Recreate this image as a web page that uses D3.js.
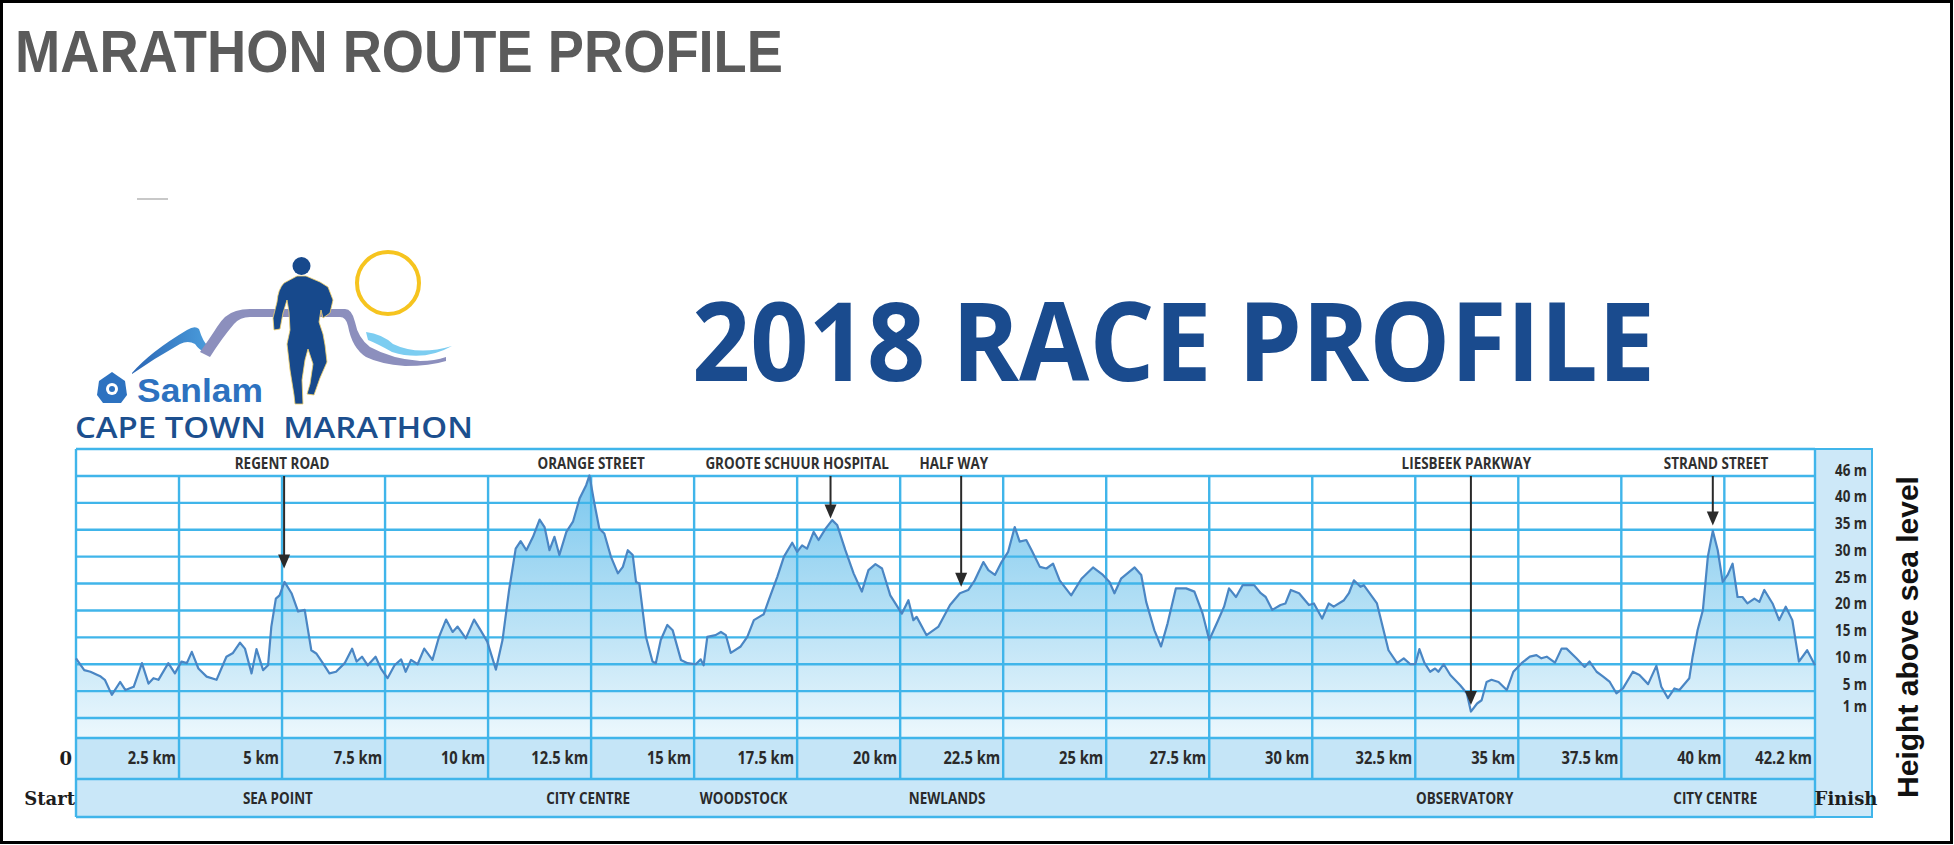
<!DOCTYPE html>
<html>
<head>
<meta charset="utf-8">
<script src="https://cdn.jsdelivr.net/npm/d3@7"></script>
<style>
  html, body { margin: 0; padding: 0; background: #fff; }
  svg { display: block; }
</style>
</head>
<body>
<svg id="chart" width="1954" height="845"></svg>
<script>
// elevation profile (km along route, metres above sea level)
const distanceKm = [0, 0.2, 0.35, 0.6, 0.7, 0.87, 1.07, 1.2, 1.4, 1.6, 1.76, 1.88, 2.0, 2.24, 2.4, 2.56, 2.69, 2.81, 2.97, 3.17,
  3.41, 3.65, 3.81, 3.98, 4.1, 4.26, 4.38, 4.54, 4.66, 4.74, 4.85, 4.94, 5.06, 5.23, 5.39, 5.55, 5.71, 5.83, 5.99, 6.15,
  6.31, 6.52, 6.7, 6.81, 6.94, 7.08, 7.27, 7.4, 7.56, 7.73, 7.89, 8.0, 8.13, 8.29, 8.45, 8.65, 8.81, 8.98, 9.14, 9.26,
  9.46, 9.66, 9.82, 9.98, 10.19, 10.35, 10.51, 10.67, 10.79, 10.93, 11.09, 11.25, 11.37, 11.49, 11.61, 11.73, 11.9, 12.06, 12.22, 12.38,
  12.46, 12.58, 12.7, 12.82, 12.98, 13.15, 13.27, 13.39, 13.51, 13.59, 13.67, 13.83, 13.99, 14.07, 14.19, 14.35, 14.48, 14.68, 14.84, 15.04,
  15.16, 15.23, 15.32, 15.52, 15.65, 15.77, 15.89, 16.13, 16.29, 16.45, 16.69, 16.81, 17.02, 17.18, 17.38, 17.5, 17.62, 17.74, 17.9, 18.02,
  18.19, 18.35, 18.47, 18.67, 18.87, 19.07, 19.23, 19.4, 19.56, 19.76, 20.04, 20.2, 20.32, 20.4, 20.64, 20.93, 21.21, 21.45, 21.65, 21.81,
  22.02, 22.14, 22.3, 22.46, 22.62, 22.78, 22.9, 23.06, 23.19, 23.39, 23.55, 23.71, 23.87, 24.15, 24.4, 24.68, 24.92, 25.08, 25.2, 25.36,
  25.69, 25.85, 25.97, 26.17, 26.33, 26.49, 26.69, 26.94, 27.14, 27.34, 27.5, 27.7, 27.86, 27.98, 28.15, 28.31, 28.59, 28.75, 28.87, 29.03,
  29.23, 29.35, 29.48, 29.68, 29.92, 30.04, 30.24, 30.4, 30.52, 30.77, 30.89, 31.01, 31.17, 31.25, 31.57, 31.73, 31.85, 32.06, 32.22, 32.38,
  32.5, 32.6, 32.72, 32.86, 32.98, 33.06, 33.19, 33.35, 33.59, 33.75, 33.85, 34.0, 34.11, 34.23, 34.35, 34.52, 34.72, 34.88, 35.08, 35.28,
  35.44, 35.56, 35.69, 35.89, 36.05, 36.17, 36.41, 36.61, 36.73, 36.9, 37.06, 37.22, 37.38, 37.54, 37.78, 37.94, 38.15, 38.35, 38.47, 38.63,
  38.79, 38.91, 39.15, 39.23, 39.35, 39.48, 39.6, 39.72, 39.84, 39.96, 40.08, 40.2, 40.32, 40.44, 40.56, 40.73, 40.85, 40.97, 41.17, 41.33,
  41.49, 41.65, 41.81, 42.01, 42.2];
const elevationM = [11.1, 8.9, 8.6, 7.7, 7.1, 4.3, 6.7, 5.2, 5.8, 10.2, 6.4, 7.4, 7.1, 10.2, 8.3, 10.5, 10.2, 12.3, 9.2, 7.7,
  7.1, 11.4, 12.1, 14.0, 12.9, 8.3, 12.8, 8.9, 9.8, 17.0, 22.2, 22.8, 25.3, 23.2, 19.8, 20.1, 12.6, 12.0, 10.2, 8.3,
  8.6, 10.2, 12.9, 10.5, 11.4, 9.8, 11.4, 9.2, 7.4, 9.8, 10.9, 8.6, 10.8, 10.0, 12.9, 10.8, 15.1, 18.3, 16.0, 17.0,
  14.8, 18.3, 16.3, 14.2, 9.0, 14.5, 23.8, 31.5, 32.9, 31.2, 33.7, 36.9, 35.5, 31.2, 33.7, 30.3, 34.6, 36.5, 40.8, 43.3,
  45.1, 39.9, 35.2, 34.3, 30.0, 26.9, 28.1, 31.2, 30.3, 25.3, 25.0, 15.1, 10.5, 10.2, 14.5, 17.3, 16.3, 10.8, 10.2, 10.0,
  10.9, 9.8, 15.1, 15.4, 16.0, 15.4, 12.1, 13.3, 15.1, 18.2, 19.3, 21.9, 26.3, 30.0, 32.6, 30.9, 32.1, 31.5, 34.6, 33.1,
  35.2, 36.8, 35.9, 31.2, 26.9, 23.5, 27.5, 28.6, 27.8, 22.8, 19.4, 21.9, 18.2, 18.8, 15.4, 17.0, 21.0, 23.2, 23.8, 25.6,
  29.0, 27.5, 26.6, 29.0, 30.9, 35.5, 32.8, 33.1, 31.2, 28.1, 27.8, 28.7, 25.6, 22.8, 25.9, 28.0, 26.6, 25.3, 23.2, 25.9,
  28.0, 26.6, 21.6, 16.3, 13.3, 17.6, 24.1, 24.1, 23.5, 19.4, 14.5, 17.9, 20.7, 24.1, 22.5, 24.7, 24.7, 23.2, 22.5, 20.1,
  21.0, 21.3, 23.8, 23.2, 21.0, 21.3, 18.5, 21.3, 20.7, 21.9, 23.2, 25.6, 24.4, 24.7, 21.3, 16.3, 12.6, 10.2, 11.1, 10.0,
  10.0, 12.8, 10.3, 8.6, 9.2, 8.6, 10.0, 8.0, 6.1, 4.6, 1.2, 2.7, 3.3, 6.7, 7.1, 6.7, 5.2, 8.6, 10.2, 11.4,
  11.7, 11.1, 11.4, 10.3, 12.9, 12.9, 11.1, 9.5, 10.5, 8.6, 7.7, 6.7, 4.6, 5.5, 8.6, 8.0, 6.3, 9.7, 5.8, 3.7,
  5.5, 5.2, 7.4, 11.4, 16.3, 20.1, 30.0, 34.8, 31.2, 25.3, 26.6, 28.7, 22.5, 22.5, 21.3, 22.2, 21.6, 23.8, 21.3, 18.2,
  20.7, 18.2, 10.5, 12.6, 9.8];

const kmTicks = [2.5, 5, 7.5, 10, 12.5, 15, 17.5, 20, 22.5, 25, 27.5, 30, 32.5, 35, 37.5, 40, 42.2];
const kmTickLabels = ["2.5 km", "5 km", "7.5 km", "10 km", "12.5 km", "15 km", "17.5 km", "20 km", "22.5 km",
  "25 km", "27.5 km", "30 km", "32.5 km", "35 km", "37.5 km", "40 km", "42.2 km"];
const heightTicks = [46, 40, 35, 30, 25, 20, 15, 10, 5, 1];
const heightTickLabels = ["46 m", "40 m", "35 m", "30 m", "25 m", "20 m", "15 m", "10 m", "5 m", "1 m"];

const landmarkNames = ["REGENT ROAD", "ORANGE STREET", "GROOTE SCHUUR HOSPITAL", "HALF WAY", "LIESBEEK PARKWAY", "STRAND STREET"];
const landmarkLabelKm = [5.0, 12.5, 17.5, 21.3, 33.74, 39.8];
const landmarkArrowKm = [5.05, null, 18.31, 21.48, 33.85, 39.72];
const landmarkArrowM = [27.8, null, 37.1, 24.4, 2.4, 35.8];

const suburbNames = ["SEA POINT", "CITY CENTRE", "WOODSTOCK", "NEWLANDS", "OBSERVATORY", "CITY CENTRE"];
const suburbKm = [4.9, 12.43, 16.2, 21.14, 33.7, 39.78];

const svg = d3.select("#chart");
const gridBlue = "#40b5ea";
const condensedFont = "'Open Sans', sans-serif";

// layout
const left = 76, right = 1815;
const frameTop = 449, bandTop = 738, bandMid = 779, bandBottom = 817;
const colRight = 1872;

const x = d3.scaleLinear().domain([0, 42.2]).range([left, right]);
const y = d3.scaleLinear().domain([0, 45]).range([718, 476]);

const profile = distanceKm.map(function (d, i) {
    return { km: d, m: elevationM[i] };
});

// outer black frame
svg.append("rect")
    .attr("x", 1.5).attr("y", 1.5)
    .attr("width", 1950).attr("height", 841)
    .attr("fill", "#fff")
    .attr("stroke", "#000")
    .attr("stroke-width", 3);

// page title
svg.append("text")
    .attr("x", 15).attr("y", 72)
    .attr("textLength", 768)
    .attr("lengthAdjust", "spacingAndGlyphs")
    .style("font-family", "'Liberation Sans', Arial, sans-serif")
    .style("font-weight", "bold")
    .style("font-size", "60px")
    .attr("fill", "#5b5b5b")
    .text("MARATHON ROUTE PROFILE");

svg.append("line")
    .attr("x1", 137).attr("x2", 168).attr("y1", 199).attr("y2", 199)
    .attr("stroke", "#c8c8c8").attr("stroke-width", 2);

svg.append("text")
    .attr("x", 692).attr("y", 381)
    .attr("textLength", 963)
    .attr("lengthAdjust", "spacingAndGlyphs")
    .style("font-family", condensedFont)
    .style("font-weight", "bold")
    .style("font-size", "109px")
    .attr("fill", "#1a4b8e")
    .text("2018 RACE PROFILE");

// logo
let logo = svg.append("g").attr("id", "logo");
let defs = svg.append("defs");

let swoosh = defs.append("linearGradient").attr("id", "swoosh")
    .attr("x1", "0").attr("x2", "1").attr("y1", "0").attr("y2", "0");
swoosh.append("stop").attr("offset", "0").attr("stop-color", "#2a66b5");
swoosh.append("stop").attr("offset", "1").attr("stop-color", "#4fa3e0");

logo.append("path")
    .attr("d", "M132,373 Q150,352 187,330 Q195,325 199,329 Q203,342 208,346 Q212,338 218,336 L218,342 Q210,352 206,353 Q199,350 195,344 Q188,340 180,344 Q155,358 132,374 Z")
    .attr("fill", "url(#swoosh)");

logo.append("path")
    .attr("d", "M200,352 Q210,338 217,327 Q225,314 236,311 Q242,309 250,309 L345,309 Q352,309 355,322 Q358,338 370,347 Q392,359 420,361 Q435,361 446,357 L446,361 Q430,366 405,366 Q380,364 366,357 Q352,348 348,326 Q346,317 340,317 L250,317 Q240,317 234,324 Q222,338 210,357 Z")
    .attr("fill", "#8c8fbd");

logo.append("path")
    .attr("d", "M366,332 Q382,334 393,344 Q418,356 452,346 Q424,362 392,352 Q378,344 368,340 Z")
    .attr("fill", "#7ccdf1");

logo.append("circle")
    .attr("cx", 388).attr("cy", 283).attr("r", 31)
    .attr("fill", "none")
    .attr("stroke", "#f6c41f")
    .attr("stroke-width", 4);

logo.append("path")
    .attr("d", "M297,276 L284,283 Q278,289 277,302 L273,318 L274,330 L280,329 L283,313 L287,300 L289,312 L290,330 L287,344 L290,370 L294,395 L295,404 L303,404 L302,380 L305,360 L308,349 L313,364 L310,384 L307,394 L314,395 L320,378 L327,362 L325,345 L323,334 L319,322 L321,310 L323,318 L330,313 L333,300 L328,287 L320,282 L306,276 Z")
    .attr("fill", "#17498c")
    .attr("stroke", "#f4d26a")
    .attr("stroke-width", 0.8);
logo.append("circle")
    .attr("cx", 301.5).attr("cy", 266).attr("r", 9)
    .attr("fill", "#17498c");

logo.append("path")
    .attr("d", "M112,372 L125,381 L127,395 L121,403 L103,403 L97,395 L99,381 Z")
    .attr("fill", "#2d72c0");
logo.append("circle").attr("cx", 112).attr("cy", 389).attr("r", 6).attr("fill", "#fff");
logo.append("circle").attr("cx", 112).attr("cy", 389).attr("r", 3).attr("fill", "#2d72c0");

logo.append("text")
    .attr("x", 137).attr("y", 402)
    .attr("textLength", 126)
    .attr("lengthAdjust", "spacingAndGlyphs")
    .style("font-family", "'Liberation Sans', Arial, sans-serif")
    .style("font-weight", "bold")
    .style("font-size", "33px")
    .attr("fill", "#2d72c0")
    .text("Sanlam");

logo.append("text")
    .attr("x", 75).attr("y", 438)
    .attr("textLength", 398)
    .attr("lengthAdjust", "spacingAndGlyphs")
    .style("font-family", condensedFont)
    .style("font-weight", "600")
    .style("font-size", "29px")
    .attr("fill", "#1c4f8e")
    .text("CAPE TOWN\u00a0 MARATHON");

// area gradient, darker towards the top
let fillGrad = defs.append("linearGradient").attr("id", "profileFill")
    .attr("gradientUnits", "userSpaceOnUse")
    .attr("x1", 0).attr("x2", 0)
    .attr("y1", y(46)).attr("y2", bandTop);
fillGrad.append("stop").attr("offset", "0").attr("stop-color", "#78c6ee");
fillGrad.append("stop").attr("offset", "0.4").attr("stop-color", "#a7daf3");
fillGrad.append("stop").attr("offset", "0.72").attr("stop-color", "#cbe9f8");
fillGrad.append("stop").attr("offset", "1").attr("stop-color", "#edf8fd");

// bands and side column
svg.append("rect")
    .attr("x", left).attr("y", bandTop)
    .attr("width", right - left).attr("height", bandMid - bandTop)
    .attr("fill", "#c5e5f7");
svg.append("rect")
    .attr("x", left).attr("y", bandMid)
    .attr("width", right - left).attr("height", bandBottom - bandMid)
    .attr("fill", "#c9e7f8");
svg.append("rect")
    .attr("x", right).attr("y", frameTop)
    .attr("width", colRight - right).attr("height", bandBottom - frameTop)
    .attr("fill", "#cde8f8")
    .attr("stroke", gridBlue)
    .attr("stroke-width", 2);

let area = d3.area()
    .x(function (d) { return x(d.km); })
    .y0(bandTop)
    .y1(function (d) { return y(d.m); });

let line = d3.line()
    .x(function (d) { return x(d.km); })
    .y(function (d) { return y(d.m); });

svg.append("path")
    .datum(profile)
    .attr("d", area)
    .attr("fill", "url(#profileFill)");

// grid over the fill
let grid = svg.append("g").attr("stroke", gridBlue).attr("stroke-width", 2.4);

grid.selectAll("line.h")
    .data(d3.range(0, 46, 5))
    .enter().append("line")
    .attr("class", "h")
    .attr("x1", left).attr("x2", right)
    .attr("y1", function (d) { return y(d); })
    .attr("y2", function (d) { return y(d); });

grid.selectAll("line.v")
    .data(kmTicks.slice(0, -1))
    .enter().append("line")
    .attr("class", "v")
    .attr("x1", function (d) { return x(d); })
    .attr("x2", function (d) { return x(d); })
    .attr("y1", y(45)).attr("y2", bandMid);

[frameTop, bandTop, bandMid, bandBottom].forEach(function (yy) {
    grid.append("line").attr("x1", left).attr("x2", right).attr("y1", yy).attr("y2", yy);
});
grid.append("line").attr("x1", left).attr("x2", left).attr("y1", frameTop).attr("y2", bandBottom);
grid.append("line").attr("x1", right).attr("x2", right).attr("y1", frameTop).attr("y2", bandBottom);

svg.append("path")
    .datum(profile)
    .attr("d", line)
    .attr("fill", "none")
    .attr("stroke", "#4a86c4")
    .attr("stroke-width", 2.2)
    .attr("stroke-linejoin", "round");

// condensed bold label helper
function squeezed(parent, px, py, str, anchor, size, colour) {
    return parent.append("text")
        .attr("transform", "translate(" + px + "," + py + ") scale(0.84,1)")
        .attr("text-anchor", anchor)
        .style("font-family", condensedFont)
        .style("font-weight", "bold")
        .style("font-size", size + "px")
        .attr("fill", colour || "#2a2a2a")
        .text(str);
}

// km labels in the band
kmTicks.forEach(function (d, i) {
    squeezed(svg, x(d) - 3, 764, kmTickLabels[i], "end", 17.5);
});

// height labels in the side column
heightTicks.forEach(function (d, i) {
    let yy = Math.max(y(d) - 7, y(46) - 1);
    squeezed(svg, 1867, yy + 6, heightTickLabels[i], "end", 16);
});

// suburbs
suburbNames.forEach(function (d, i) {
    squeezed(svg, x(suburbKm[i]), 804, d, "middle", 16);
});

// landmarks and arrows
let arrows = svg.append("g");
landmarkNames.forEach(function (d, i) {
    squeezed(arrows, x(landmarkLabelKm[i]), 469, d, "middle", 16, "#303030");
    if (landmarkArrowKm[i] === null) return;
    let ax = x(landmarkArrowKm[i]);
    let tip = y(landmarkArrowM[i]);
    arrows.append("line")
        .attr("x1", ax).attr("x2", ax)
        .attr("y1", y(45)).attr("y2", tip - 10)
        .attr("stroke", "#2a2a2a")
        .attr("stroke-width", 2);
    arrows.append("path")
        .attr("d", "M" + (ax - 6) + "," + (tip - 14) + " L" + (ax + 6) + "," + (tip - 14) + " L" + ax + "," + tip + " Z")
        .attr("fill", "#2a2a2a");
});

// serif labels
function serif(px, py, str, anchor) {
    svg.append("text")
        .attr("x", px).attr("y", py)
        .attr("text-anchor", anchor)
        .style("font-family", "'DejaVu Serif', serif")
        .style("font-weight", "bold")
        .style("font-size", "18px")
        .attr("fill", "#1d1d1d")
        .text(str);
}
serif(72, 765, "0", "end");
serif(75, 805, "Start", "end");
serif(1846, 805, "Finish", "middle");

svg.append("text")
    .attr("transform", "translate(1918,637) rotate(-90)")
    .attr("text-anchor", "middle")
    .style("font-family", "'Liberation Sans', Arial, sans-serif")
    .style("font-weight", "bold")
    .style("font-size", "30px")
    .attr("fill", "#111")
    .text("Height above sea level");
</script>
</body>
</html>
